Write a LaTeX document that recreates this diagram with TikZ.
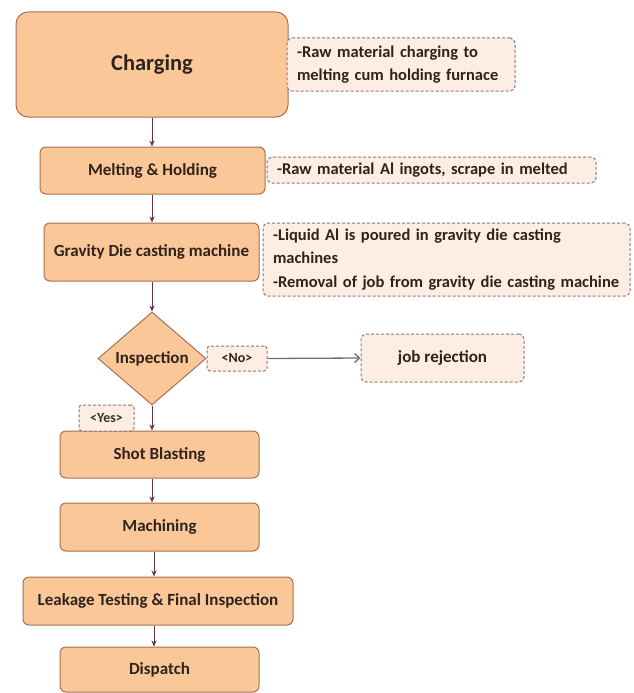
\documentclass[tikz,border=0pt]{standalone}
\usepackage{fontspec}
\setmainfont{Carlito}
\usetikzlibrary{shapes.geometric,arrows.meta}
\definecolor{boxfill}{RGB}{250,199,152}
\definecolor{boxdraw}{RGB}{168,112,82}
\definecolor{annfill}{RGB}{253,237,226}
\definecolor{anndraw}{RGB}{140,120,115}
\definecolor{txt}{RGB}{48,34,28}
\definecolor{arr}{RGB}{100,50,70}
\definecolor{noarr}{RGB}{110,110,110}
\definecolor{yestxt}{RGB}{40,60,30}
\tikzset{
  mainbox/.style={draw=boxdraw, fill=boxfill, line width=1pt, rounded corners=6pt,
    text=txt, font=\bfseries\fontsize{17}{20}\selectfont, inner sep=0pt, align=center},
  annbox/.style={draw=anndraw, fill=annfill, line width=1pt, dash pattern=on 3pt off 2pt,
    rounded corners=5pt, text=txt, font=\bfseries\fontsize{16.5}{23.5}\selectfont,
    inner xsep=10pt, inner ysep=0pt, align=left},
  smallbox/.style={draw=anndraw, fill=annfill, line width=1pt, dash pattern=on 3pt off 2pt,
    rounded corners=3pt, font=\bfseries\fontsize{14}{16}\selectfont, inner sep=0pt},
  flow/.style={draw=arr, line width=0.9pt, -{Stealth[length=6pt,width=5pt]}},
}
\begin{document}
\begin{tikzpicture}[x=1pt,y=-1pt]
\useasboundingbox (0,0) rectangle (634,693);
% main column
\node[mainbox, rounded corners=12pt, minimum width=272pt, minimum height=105pt,
  font=\bfseries\fontsize{22.5}{26}\selectfont] (chg) at (152,64.5) {Charging};
\node[mainbox, minimum width=225pt, minimum height=47pt] (melt) at (152.5,170.5) {Melting \& Holding};
\node[mainbox, minimum width=215pt, minimum height=58pt] (grav) at (151.5,252) {Gravity Die casting machine};
\node[diamond, draw=boxdraw, fill=boxfill, line width=1pt, text=txt, inner sep=0pt,
  minimum width=108pt, minimum height=93pt, font=\bfseries\fontsize{17}{20}\selectfont] (insp) at (152,358.5) {Inspection};
\node[mainbox, minimum width=199pt, minimum height=47pt] (sb) at (159.5,454.5) {Shot Blasting};
\node[mainbox, minimum width=199pt, minimum height=48pt] (mach) at (159.5,527) {Machining};
\node[mainbox, minimum width=270pt, minimum height=48pt] (leak) at (158,601) {Leakage Testing \& Final Inspection};
\node[mainbox, minimum width=199pt, minimum height=45pt] (disp) at (159.5,669.5) {Dispatch};
% annotations
\node[annbox, text width=208pt, minimum height=53pt] (a1) at (401,64.5)
  {-Raw material charging to\\melting cum holding furnace};
\node[annbox, text width=309pt, minimum height=26pt] (a2) at (431.5,170)
  {-Raw material Al ingots, scrape in melted};
\node[annbox, text width=347pt, minimum height=73pt] (a3) at (446.5,259.5)
  {-Liquid Al is poured in gravity die casting\\machines\\\mbox{-Removal of job from gravity die casting machine}};
\node[smallbox, minimum width=60pt, minimum height=25pt, text=txt] (no) at (237,358.5) {<No>};
\node[smallbox, minimum width=55pt, minimum height=26pt, text=yestxt] (yes) at (106.5,418) {<Yes>};
\node[annbox, align=center, inner xsep=0pt, minimum width=163pt, minimum height=48pt,
  font=\bfseries\fontsize{17}{20}\selectfont] (rej) at (442.5,358) {job rejection};
% connectors
\draw[flow] (chg.south -| insp) -- (melt.north -| insp);
\draw[flow] (melt.south -| insp) -- (grav.north -| insp);
\draw[flow] (grav.south -| insp) -- (insp.north);
\draw[flow] (insp.south) -- (insp.south |- sb.north);
\draw[flow] (sb.south -| insp) -- (mach.north -| insp);
\draw[flow] ([xshift=2pt]mach.south -| insp) -- ([xshift=2pt]leak.north -| insp);
\draw[flow] ([xshift=2pt]leak.south -| insp) -- ([xshift=2pt]disp.north -| insp);
\draw[draw=noarr, line width=1.3pt, -{Straight Barb[length=5pt,width=9pt]}] (no.east) -- (rej.west);
\end{tikzpicture}
\end{document}
